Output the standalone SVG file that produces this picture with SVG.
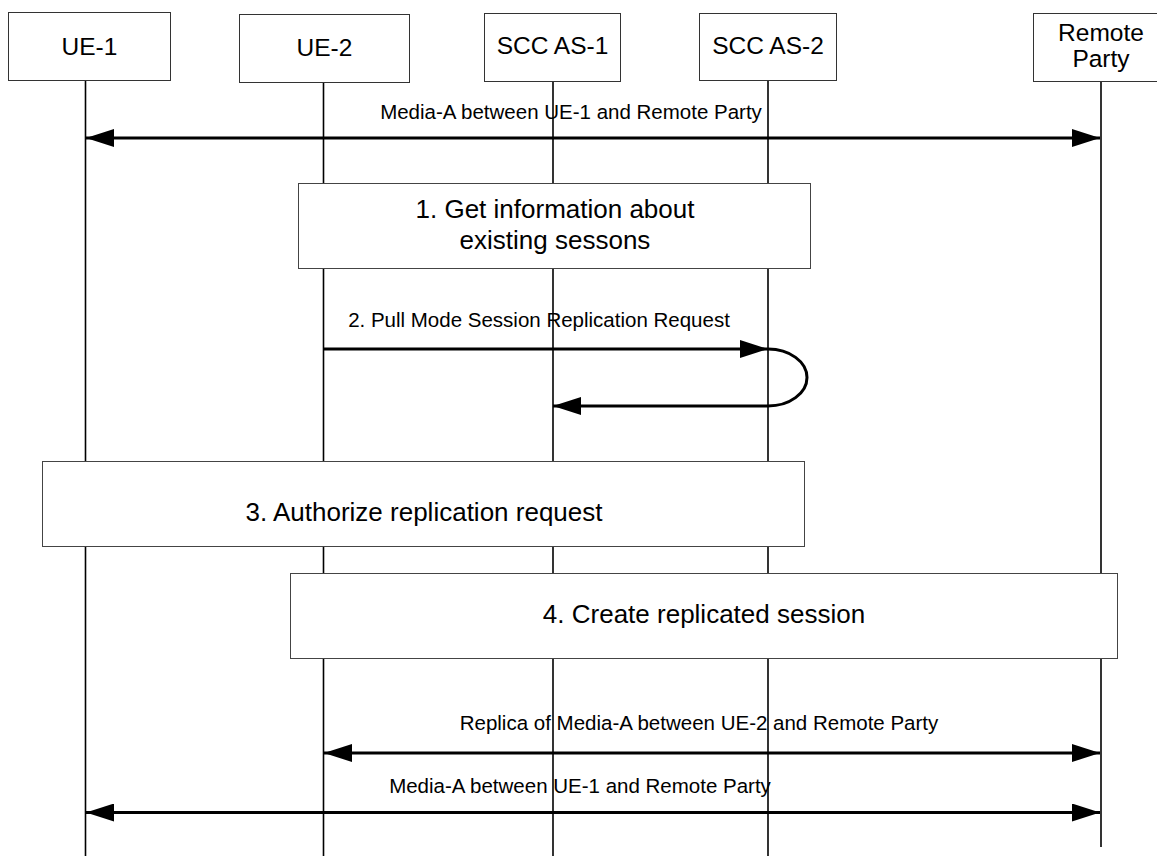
<svg xmlns="http://www.w3.org/2000/svg" width="1157" height="856" viewBox="0 0 1157 856">
<style>
.bg{fill:#fff}
.hdr{fill:#fff;stroke:#333;stroke-width:1}
.box{fill:#fff;stroke:#444;stroke-width:1}
.life{stroke:#000;stroke-width:1.6;fill:none}
.msg{stroke:#000;stroke-width:3;fill:none}
.t{font-family:"Liberation Sans",Arial,sans-serif;fill:#000;text-anchor:middle}
.th{font-size:24.5px}
.tb{font-size:26px}
.tm{font-size:20.5px}
</style>
<defs>
<marker id="ah" markerUnits="userSpaceOnUse" markerWidth="28" markerHeight="18" refX="28" refY="9" orient="auto-start-reverse" viewBox="0 0 28 18">
<path d="M0,0 L28,9 L0,18 z" fill="#000"/>
</marker>
</defs>
<rect class="bg" x="0" y="0" width="1157" height="856"/>
<g id="lifelines">
<line class="life" x1="85.5" y1="81" x2="85.5" y2="856"/>
<line class="life" x1="323.5" y1="83" x2="323.5" y2="856"/>
<line class="life" x1="553" y1="82" x2="553" y2="856"/>
<line class="life" x1="768" y1="81" x2="768" y2="856"/>
<line class="life" x1="1101" y1="82" x2="1101" y2="847"/>
</g>
<g id="ue1">
<rect class="hdr" x="8.5" y="12.5" width="162" height="68"/>
<text class="t th" x="89.5" y="55">UE-1</text>
</g>
<g id="ue2">
<rect class="hdr" x="239.5" y="14.5" width="170" height="68"/>
<text class="t th" x="324.5" y="56">UE-2</text>
</g>
<g id="sccas1">
<rect class="hdr" x="484.5" y="13.5" width="136" height="68"/>
<text class="t th" x="552.5" y="53.5" font-size="23.5">SCC AS-1</text>
</g>
<g id="sccas2">
<rect class="hdr" x="699.5" y="13.5" width="137" height="67"/>
<text class="t th" x="768" y="53.5">SCC AS-2</text>
</g>
<g id="remote">
<rect class="hdr" x="1033.5" y="13.5" width="130" height="68"/>
<text class="t th" x="1101" y="41">Remote</text>
<text class="t th" x="1101" y="67">Party</text>
</g>
<g id="step1">
<rect class="box" x="298.5" y="183.5" width="512" height="85"/>
<text class="t tb" x="555" y="218">1. Get information about</text>
<text class="t tb" x="555" y="249">existing sessons</text>
</g>
<g id="step3">
<rect class="box" x="42.5" y="461.5" width="762" height="85"/>
<text class="t tb" x="424" y="521">3. Authorize replication request</text>
</g>
<g id="step4">
<rect class="box" x="290.5" y="573.5" width="827" height="85"/>
<text class="t tb" x="704" y="623">4. Create replicated session</text>
</g>
<g id="connectors">
<line class="msg" x1="86" y1="138" x2="1100" y2="138" marker-start="url(#ah)" marker-end="url(#ah)"/>
<text class="t tm" x="571" y="119">Media-A between UE-1 and Remote Party</text>
<line class="msg" x1="323.5" y1="349" x2="768" y2="349" marker-end="url(#ah)"/>
<text class="t tm" x="539" y="327">2. Pull Mode Session Replication Request</text>
<path class="msg" d="M768,349 A39,28.5 0 0 1 768,406 H553" marker-end="url(#ah)"/>
<line class="msg" x1="324" y1="753" x2="1100" y2="753" marker-start="url(#ah)" marker-end="url(#ah)"/>
<text class="t tm" x="699" y="730">Replica of Media-A between UE-2 and Remote Party</text>
<line class="msg" x1="86" y1="812.5" x2="1100" y2="812.5" marker-start="url(#ah)" marker-end="url(#ah)"/>
<text class="t tm" x="580" y="793">Media-A between UE-1 and Remote Party</text>
</g>
</svg>
